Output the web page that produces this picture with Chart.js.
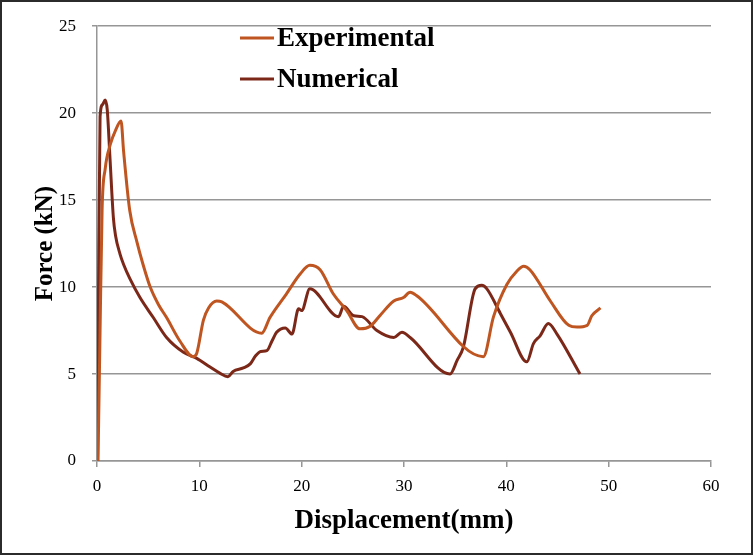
<!DOCTYPE html>
<html lang="en">
<head>
    <meta charset="UTF-8">
    <title>Force vs Displacement</title>
    <style>
        body {
            margin: 0;
            padding: 0;
            background: #fff;
        }
        #forceChart {
            display: block;
        }
    </style>
</head>
<body>
    <canvas id="forceChart" width="753" height="555"></canvas>
    <script src="https://cdn.jsdelivr.net/npm/chart.js"></script>
    <script>
        // displacement (mm) / force (kN) readings
        const expX = [0.1, 0.3, 0.5, 0.8, 1.3, 1.8, 2.35, 2.6, 3.2, 3.9, 4.5, 5.2, 6.0, 6.8, 8.1, 9.4,
            9.75, 10.4, 10.9, 11.7, 12.2, 16.1, 16.9, 18.5, 19.85, 20.8, 21.8, 23.1, 24.4, 25.7,
            26.7, 27.7, 29.0, 29.95, 30.6, 31.25, 37.75, 38.75, 40.05, 41.0, 41.7, 42.3, 44.3,
            46.1, 46.9, 47.9, 48.35, 49.2];
        const expY = [0, 7.5, 14.5, 16.8, 18.2, 19.0, 19.55, 17.8, 14.4, 12.6, 11.3, 10.0, 9.0, 8.25, 6.9, 6.0,
            6.2, 8.1, 8.8, 9.2, 9.15, 7.35, 8.25, 9.6, 10.75, 11.25, 11.0, 9.6, 8.65, 7.6,
            7.75, 8.4, 9.2, 9.4, 9.7, 9.5, 6.0, 8.3, 10.15, 10.9, 11.2, 11.0, 9.2,
            7.8, 7.7, 7.8, 8.35, 8.8];

        const numX = [0.05, 0.15, 0.3, 0.55, 0.8, 1.0, 1.27, 1.6, 1.8, 2.25, 2.6, 3.2, 4.2, 5.5, 6.8, 8.45,
            9.75, 11.05, 12.0, 12.8, 13.3, 14.3, 15.0, 15.5, 16.0, 16.6, 17.1, 17.55, 18.4, 19.05,
            19.7, 20.0, 20.8, 23.6, 24.1, 25.1, 25.9, 27.35, 29.0, 29.8, 30.6, 34.5, 35.2, 35.8,
            36.95, 37.6, 38.1, 39.4, 40.4, 42.0, 42.65, 43.3, 44.1, 44.95, 47.2];
        const numY = [0, 10, 19.8, 20.5, 20.75, 20.2, 17.4, 14.0, 13.0, 11.9, 11.3, 10.5, 9.4, 8.25, 7.1, 6.25,
            5.9, 5.4, 5.05, 4.85, 5.15, 5.35, 5.6, 6.05, 6.3, 6.35, 6.9, 7.4, 7.65, 7.3,
            8.75, 8.65, 9.9, 8.3, 8.9, 8.35, 8.3, 7.5, 7.1, 7.4, 7.1, 5.0, 5.8, 6.55,
            9.9, 10.1, 9.9, 8.5, 7.4, 5.7, 6.75, 7.2, 7.9, 7.3, 5.0];

        const seriesNames = ['Experimental', 'Numerical'];
        const seriesColors = ['#BF5520', '#7C2819'];

        const xTitle = 'Displacement(mm)';
        const yTitle = 'Force (kN)';

        const serif = "'Liberation Serif', 'Times New Roman', serif";
        const gridColor = '#969696';

        function toPoints(xs, ys) {
            return xs.map((x, i) => ({ x: x, y: ys[i] }));
        }

        // legend drawn inside the plot, line sample + bold label
        const insideLegend = {
            id: 'insideLegend',
            afterDatasetsDraw(chart) {
                const ctx = chart.ctx;
                const rows = [38, 79];
                ctx.save();
                ctx.font = 'bold 27px ' + serif;
                ctx.textBaseline = 'middle';
                ctx.fillStyle = '#000';
                chart.data.datasets.forEach((ds, i) => {
                    const y = rows[i];
                    ctx.strokeStyle = ds.borderColor;
                    ctx.lineWidth = 3;
                    ctx.beginPath();
                    ctx.moveTo(240, y);
                    ctx.lineTo(274, y);
                    ctx.stroke();
                    ctx.fillText(ds.label, 277, y + 1);
                });
                ctx.restore();
            }
        };

        // white background and dark frame round the whole picture
        const frame = {
            id: 'frame',
            beforeDraw(chart) {
                const ctx = chart.ctx;
                ctx.save();
                ctx.fillStyle = '#fff';
                ctx.fillRect(0, 0, chart.width, chart.height);
                ctx.restore();
            },
            afterDraw(chart) {
                const ctx = chart.ctx;
                ctx.save();
                ctx.strokeStyle = '#2b2b2b';
                ctx.lineWidth = 2;
                ctx.strokeRect(1, 1, chart.width - 2, chart.height - 2);
                ctx.restore();
            }
        };

        const ctx = document.getElementById('forceChart').getContext('2d');
        new Chart(ctx, {
            type: 'line',
            data: {
                datasets: [{
                    label: seriesNames[0],
                    data: toPoints(expX, expY),
                    borderColor: seriesColors[0],
                    borderWidth: 3,
                    pointRadius: 0,
                    cubicInterpolationMode: 'monotone',
                    fill: false
                }, {
                    label: seriesNames[1],
                    data: toPoints(numX, numY),
                    borderColor: seriesColors[1],
                    borderWidth: 3,
                    pointRadius: 0,
                    cubicInterpolationMode: 'monotone',
                    fill: false
                }]
            },
            options: {
                responsive: false,
                animation: false,
                layout: {
                    padding: { left: 0, top: 24, right: 42, bottom: 0 }
                },
                plugins: {
                    legend: { display: false },
                    tooltip: { enabled: false }
                },
                scales: {
                    x: {
                        type: 'linear',
                        min: 0,
                        max: 60,
                        afterFit(scale) { scale.height = 94; },
                        ticks: {
                            stepSize: 10,
                            padding: 9,
                            color: '#000',
                            maxRotation: 0,
                            font: { family: serif, size: 17 }
                        },
                        grid: {
                            drawOnChartArea: false,
                            drawTicks: true,
                            tickLength: 6,
                            color: gridColor,
                            lineWidth: 1.5
                        },
                        border: { color: gridColor, width: 1.5 },
                        title: {
                            display: true,
                            text: xTitle,
                            color: '#000',
                            padding: { top: 0, bottom: 18 },
                            font: { family: serif, size: 27, weight: 'bold' }
                        }
                    },
                    y: {
                        min: 0,
                        max: 25,
                        afterFit(scale) { scale.width = 97; },
                        ticks: {
                            stepSize: 5,
                            padding: 16,
                            color: '#000',
                            font: { family: serif, size: 17 }
                        },
                        grid: {
                            drawTicks: true,
                            tickLength: 5,
                            color: gridColor,
                            lineWidth: 1.5
                        },
                        border: { color: gridColor, width: 1.5 },
                        title: {
                            display: true,
                            text: yTitle,
                            color: '#000',
                            padding: { top: 31, bottom: 0 },
                            font: { family: serif, size: 25, weight: 'bold' }
                        }
                    }
                }
            },
            plugins: [frame, insideLegend]
        });
    </script>
</body>
</html>
